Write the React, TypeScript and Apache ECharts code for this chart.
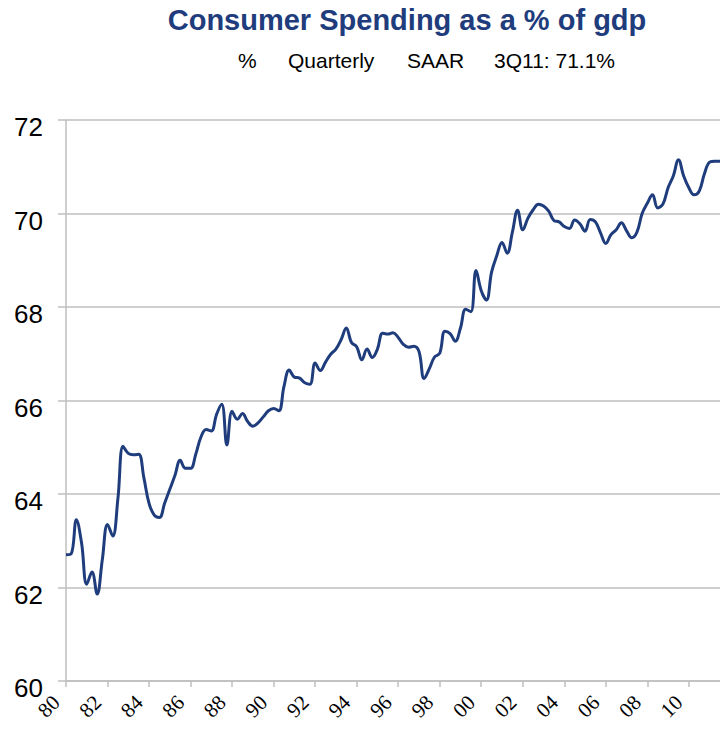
import React, { useEffect, useRef } from "react";
import * as echarts from "echarts";

const TITLE = "Consumer Spending as a % of gdp";
const SUBTITLE_PARTS = ["%", "Quarterly", "SAAR", "3Q11: 71.1%"];
const SUBTITLE_X = [238, 288, 407, 494];

const START_YEAR = 1980;
// Quarterly values, 1980Q1 .. 2011Q3
const values = [
  62.7, 62.72, 63.45, 62.95, 62.07, 62.33, 61.86, 62.6, 63.35, 63.1,
  63.9, 65.02, 64.87, 64.84, 64.85, 64.35, 63.8, 63.55, 63.5, 63.8,
  64.1, 64.4, 64.72, 64.55, 64.55, 64.85, 65.22, 65.38, 65.35, 65.7,
  65.92, 65.05, 65.77, 65.6, 65.72, 65.55, 65.45, 65.52, 65.65, 65.78,
  65.83, 65.78, 66.3, 66.65, 66.5, 66.48, 66.38, 66.35, 66.8, 66.64,
  66.82, 66.99, 67.1, 67.3, 67.55, 67.24, 67.15, 66.87, 67.1, 66.92,
  67.1, 67.44, 67.42, 67.45, 67.35, 67.2, 67.14, 67.16, 67.05, 66.47,
  66.68, 66.93, 67.01, 67.48, 67.43, 67.27, 67.55, 67.95, 67.9, 68.78,
  68.35, 68.15, 68.75, 69.1, 69.38, 69.15, 69.6, 70.07, 69.65, 69.9,
  70.08, 70.2, 70.16, 70.05, 69.85, 69.82, 69.72, 69.68, 69.86, 69.78,
  69.62, 69.87, 69.82, 69.58, 69.36, 69.55, 69.65, 69.8, 69.63, 69.48,
  69.6, 70.0, 70.22, 70.4, 70.12, 70.2, 70.55, 70.8, 71.15, 70.8,
  70.55, 70.4, 70.48, 70.85, 71.1, 71.12, 71.12,
];

const quarters: string[] = values.map((_, i) => {
  const y = START_YEAR + Math.floor(i / 4);
  return `${y}Q${(i % 4) + 1}`;
});

const Y_MIN = 60;
const Y_MAX = 72;
const Y_STEP = 2;

export default function App() {
  const ref = useRef<HTMLDivElement>(null);

  useEffect(() => {
    if (!ref.current) return;
    const chart = echarts.init(ref.current, null, { renderer: "svg" });
    const gray = "#bfbfbf";
    chart.setOption({
      animation: false,
      backgroundColor: "#ffffff",
      grid: { left: 66, right: -4, top: 120, bottom: 50, containLabel: false },
      graphic: [
        {
          type: "text",
          x: 407,
          y: 20,
          style: {
            text: TITLE,
            fontFamily: "Liberation Sans, Arial, sans-serif",
            fontWeight: "bold",
            fontSize: 29,
            fill: "#1f3c7c",
            textAlign: "center",
            textVerticalAlign: "middle",
          },
        },
        ...SUBTITLE_PARTS.map((t, i) => ({
          type: "text",
          x: SUBTITLE_X[i],
          y: 60,
          style: {
            text: t,
            fontFamily: "Liberation Sans, Arial, sans-serif",
            fontSize: 21,
            fill: "#000000",
            textAlign: "left",
            textVerticalAlign: "middle",
          },
        })),
      ],
      xAxis: {
        type: "category",
        data: quarters,
        boundaryGap: false,
        axisLine: { show: true, lineStyle: { color: gray, width: 1.5 } },
        axisTick: {
          show: true,
          interval: 7,
          length: 6,
          lineStyle: { color: gray, width: 1.5 },
        },
        axisLabel: {
          interval: 7,
          rotate: 45,
          margin: 8,
          padding: [0, 14, 0, 0],
          fontFamily: "Liberation Serif, Times New Roman, serif",
          fontSize: 21,
          color: "#000000",
          formatter: (v: string) => v.slice(2, 4),
        },
        splitLine: { show: false },
      },
      yAxis: {
        type: "value",
        min: Y_MIN,
        max: Y_MAX,
        interval: Y_STEP,
        axisLine: { show: true, lineStyle: { color: gray, width: 1.5 } },
        axisTick: { show: true, length: 8, lineStyle: { color: gray, width: 1.5 } },
        axisLabel: {
          margin: 23,
          verticalAlign: "top",
          lineHeight: 14,
          fontFamily: "Liberation Sans, Arial, sans-serif",
          fontSize: 26,
          color: "#000000",
        },
        splitLine: { show: true, lineStyle: { color: gray, width: 1.5 } },
      },
      series: [
        {
          type: "line",
          data: values,
          smooth: 0.4,
          symbol: "none",
          lineStyle: { color: "#1f3d7d", width: 3 },
        },
      ],
    });
    return () => chart.dispose();
  }, []);

  return (
    <div
      ref={ref}
      style={{ position: "fixed", left: 0, top: 0, width: 720, height: 731 }}
    />
  );
}
